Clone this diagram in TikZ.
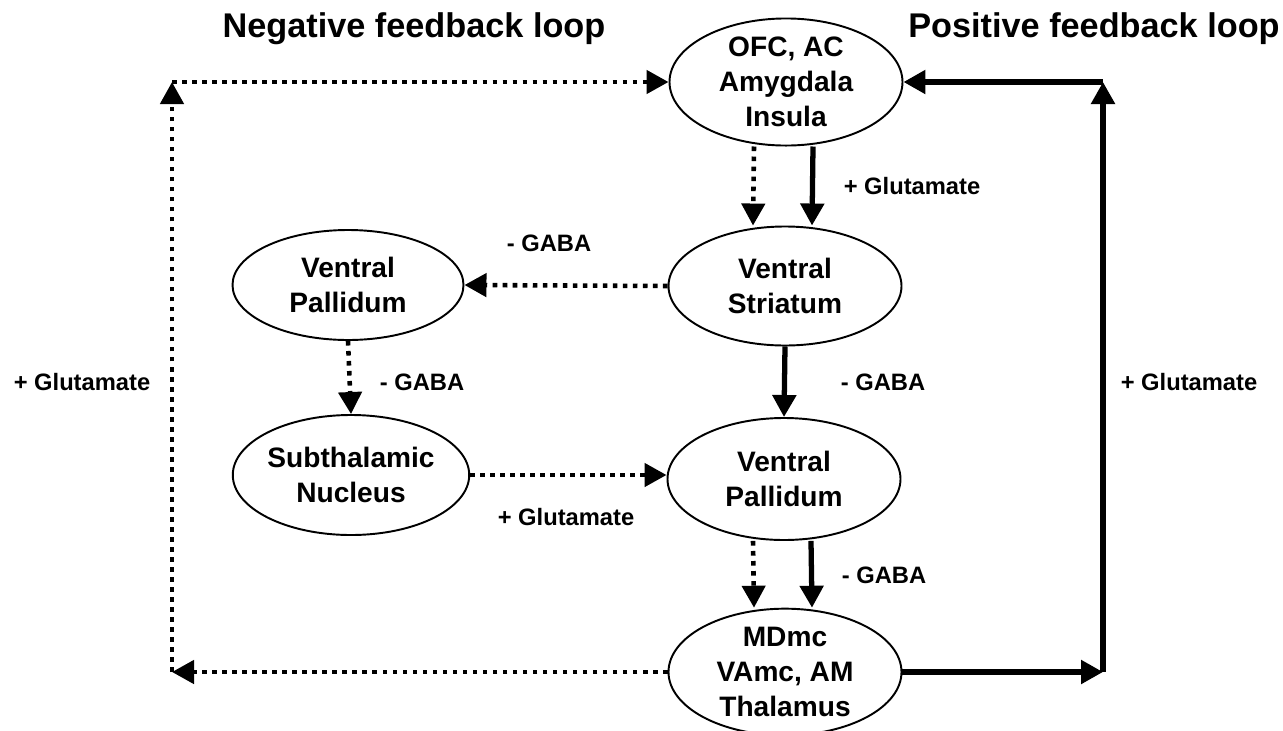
\documentclass[tikz,border=0pt]{standalone}
\usepackage{fontspec}
\setmainfont{Liberation Sans}
\usetikzlibrary{calc,shapes,arrows.meta}

\begin{document}
\begin{tikzpicture}[
        region/.style={ellipse, draw, line width=1.1pt, minimum width=4.66cm, minimum height=2.38cm, inner sep=0pt, align=center, font=\fontsize{16}{19.9}\selectfont\bfseries},
        tag/.style={font=\fontsize{13.5}{16}\selectfont\bfseries},
        headline/.style={anchor=base, font=\fontsize{19.5}{23}\selectfont\bfseries},
        direct/.style={line width=3pt, -{Triangle[length=0.44cm, width=0.46cm]}},
        indirect/.style={line width=2.6pt, dash pattern=on 2.6pt off 3.1pt, -{Triangle[length=0.44cm, width=0.46cm]}}
    ]
                    \useasboundingbox (0, 0) rectangle (25.66, -14.6);
                    \node [region, minimum height=2.48cm] (ofc) at (15.72, -1.64) {OFC, AC\\Amygdala\\Insula};
                    \node [region] (vs) at (15.70, -5.72) {Ventral\\Striatum};
                    \node [region, minimum width=4.62cm, minimum height=2.2cm] (vpl) at (6.96, -5.70) {Ventral\\Pallidum};
                    \node [region, minimum width=4.64cm, minimum height=2.4cm] (stn) at (7.02, -9.50) {Subthalamic\\Nucleus};
                    \node [region, minimum height=2.44cm] (vpr) at (15.68, -9.58) {Ventral\\Pallidum};
                    \node [region, minimum height=2.32cm] (thal) at (15.70, -13.44) {MDmc\\VAmc, AM\\Thalamus};

                    \coordinate (lx) at (3.44, 0);
                    \coordinate (rx) at (22.06, 0);
                    \coordinate (nw) at (ofc.west -| lx);
                    \coordinate (sw) at (thal.west -| lx);
                    \coordinate (ne) at (ofc.east -| rx);
                    \coordinate (se) at (thal.east -| rx);

                    \node [headline] (neg) at (8.28, -0.74) {Negative feedback loop};
                    \node [headline] (pos) at (21.88, -0.74) {Positive feedback loop};

                    \draw [indirect] ([xshift=-0.64cm] ofc.south) -- ([xshift=-0.64cm] vs.north);
                    \draw [direct] ([xshift=0.54cm] ofc.south) -- ([xshift=0.54cm] vs.north);
                    \draw [indirect] (vs.west) -- (vpl.east);
                    \draw [indirect] (vpl.south) -- (stn.north);
                    \draw [indirect] (stn.east) -- (stn.east -| vpr.west);
                    \draw [direct] (vs.south) -- (vpr.north);
                    \draw [indirect] ([xshift=-0.62cm] vpr.south) -- ([xshift=-0.62cm] thal.north);
                    \draw [direct] ([xshift=0.54cm] vpr.south) -- ([xshift=0.54cm] thal.north);

                    \draw [indirect] (thal.west) -- (sw);
                    \draw [indirect] (sw) -- (nw);
                    \draw [indirect] (nw) -- (ofc.west);
                    \draw [direct] (thal.east) -- (se);
                    \draw [direct] (se) -- (ne);
                    \draw [direct] (ne) -- (ofc.east);

                    \node [tag] (glu1) at (18.24, -3.72) {+ Glutamate};
                    \node [tag] (gaba1) at (10.98, -4.86) {- GABA};
                    \node [tag] (gaba2) at (8.44, -7.64) {- GABA};
                    \node [tag] (glu2) at (11.32, -10.34) {+ Glutamate};
                    \node [tag] (gaba3) at (17.66, -7.64) {- GABA};
                    \node [tag] (gaba4) at (17.68, -11.50) {- GABA};
                    \node [tag] (glu3) at (1.64, -7.64) {+ Glutamate};
                    \node [tag] (glu4) at (23.78, -7.64) {+ Glutamate};
                \end{tikzpicture}
\end{document}
